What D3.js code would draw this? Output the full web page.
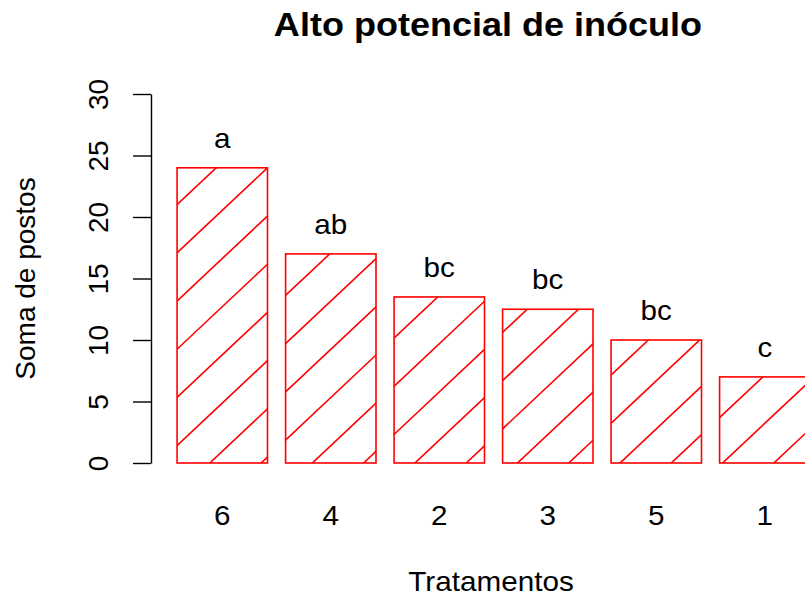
<!DOCTYPE html>
<html>
<head>
<meta charset="utf-8">
<script src="https://cdn.jsdelivr.net/npm/d3@7"></script>
<style>
  body { margin: 0; background: #fff; }
  svg { display: block; overflow: hidden; }
  text { font-family: "Liberation Sans", Arial, sans-serif; fill: #000; }
</style>
</head>
<body>
<div id="chart"></div>
<script>
// data
const tratamentos = ["6", "4", "2", "3", "5", "1"];
const somaPostos = [24, 17, 13.5, 12.5, 10, 7];
const letras = ["a", "ab", "bc", "bc", "bc", "c"];
const yTicks = [0, 5, 10, 15, 20, 25, 30];

const W = 805, H = 596;
const red = "#ff0000";
const sx = 1.06; // horizontal stretch of the original image

const svg = d3.select("#chart").append("svg")
    .attr("width", W).attr("height", H);

// scales
const x = d3.scaleBand()
    .domain(tratamentos)
    .range([159, 810])
    .paddingInner(1 / 6)
    .paddingOuter(1 / 12)
    .align(1);

const y = d3.scaleLinear()
    .domain([0, 30])
    .range([463, 94]);

// title
svg.append("text")
    .attr("transform", "translate(488,36) scale(" + sx + ",1)")
    .attr("text-anchor", "middle")
    .style("font-size", "34px")
    .style("font-weight", "bold")
    .text("Alto potencial de inóculo");

// y axis
const yAxis = svg.append("g")
    .attr("transform", "translate(151,0)")
    .call(d3.axisLeft(y).tickValues(yTicks).tickSize(18).tickSizeOuter(0).tickPadding(0));
yAxis.select(".domain").attr("stroke", "#000").attr("stroke-width", 1.4);
yAxis.selectAll(".tick line").attr("stroke", "#000").attr("stroke-width", 1.4);
yAxis.selectAll(".tick text")
    .attr("x", null).attr("dy", null)
    .attr("transform", "translate(-43,0) rotate(-90)")
    .attr("text-anchor", "middle")
    .style("font-size", "28px")
    .style("font-family", "'Liberation Sans', Arial, sans-serif")
    .attr("fill", "#000");

// y label
svg.append("text")
    .attr("transform", "translate(35," + ((y(0) + y(30)) / 2) + ") rotate(-90)")
    .attr("text-anchor", "middle")
    .style("font-size", "28px")
    .text("Soma de postos");

// x tick labels (no axis line in R barplot)
svg.append("g").selectAll("text")
    .data(tratamentos)
    .enter().append("text")
    .attr("transform", d => "translate(" + (x(d) + x.bandwidth() / 2) + ",525) scale(" + sx + ",1)")
    .attr("text-anchor", "middle")
    .style("font-size", "28px")
    .text(d => d);

// x label
svg.append("text")
    .attr("transform", "translate(491,591) scale(" + sx + ",1)")
    .attr("text-anchor", "middle")
    .style("font-size", "28px")
    .text("Tratamentos");

// bars with hatching
const slope = 0.94, spacing = 48.2;
const c0 = y(24) + slope * (x("6") + x.bandwidth());

const defs = svg.append("defs");
tratamentos.forEach((t, i) => {
    const xl = x(t), xr = x(t) + x.bandwidth();
    const yt = y(somaPostos[i]), yb = y(0);
    defs.append("clipPath").attr("id", "clip" + i)
        .append("rect")
        .attr("x", xl).attr("y", yt)
        .attr("width", xr - xl).attr("height", yb - yt);

    const g = svg.append("g");
    const kmin = Math.ceil((yt + slope * xl - c0) / spacing);
    const kmax = Math.floor((yb + slope * xr - c0) / spacing);
    const hatch = g.append("g").attr("clip-path", "url(#clip" + i + ")");
    for (let k = kmin; k <= kmax; k++) {
        const c = c0 + k * spacing;
        hatch.append("line")
            .attr("x1", xl - 2).attr("y1", c - slope * (xl - 2))
            .attr("x2", xr + 2).attr("y2", c - slope * (xr + 2))
            .attr("stroke", red).attr("stroke-width", 1.6);
    }
    g.append("rect")
        .attr("x", xl).attr("y", yt)
        .attr("width", xr - xl).attr("height", yb - yt)
        .attr("fill", "none")
        .attr("stroke", red).attr("stroke-width", 1.6);

    // letters above bars
    svg.append("text")
        .attr("transform", "translate(" + (xl + x.bandwidth() / 2) + "," + (yt - 20) + ") scale(" + sx + ",1)")
        .attr("text-anchor", "middle")
        .style("font-size", "28px")
        .text(letras[i]);
});
</script>
</body>
</html>
